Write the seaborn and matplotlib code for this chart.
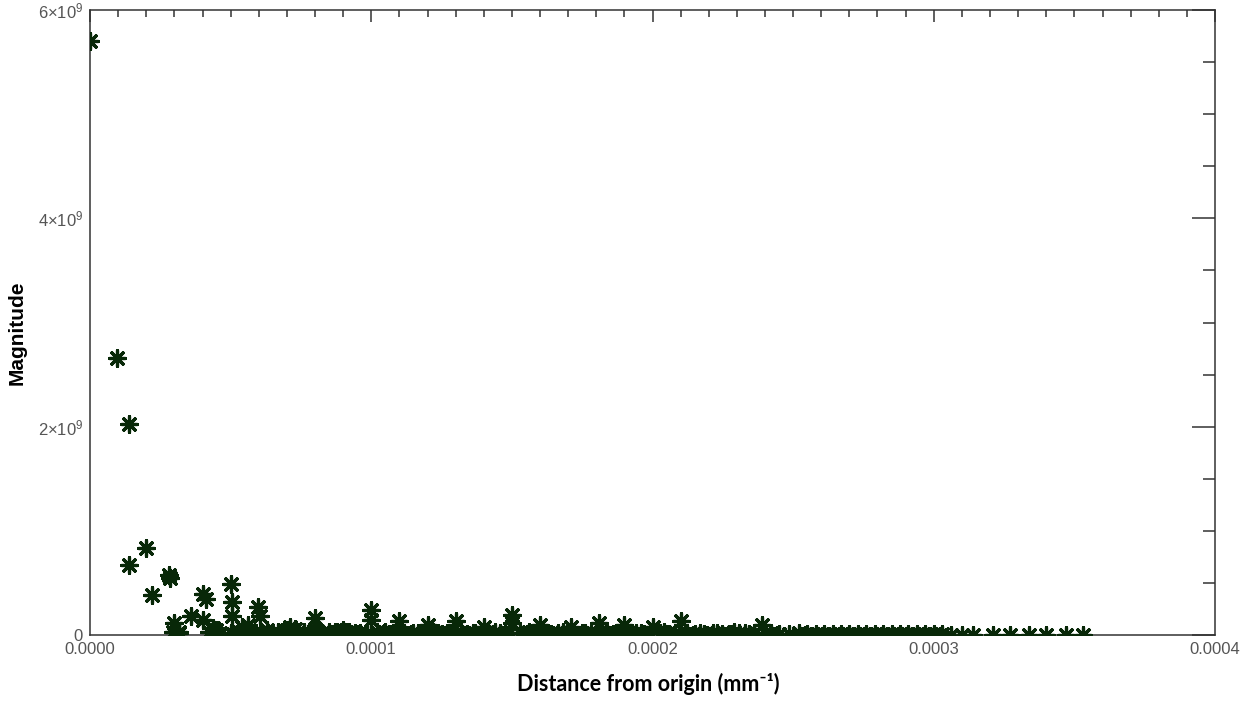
import numpy as np
import pandas as pd
import matplotlib
matplotlib.use("Agg")
import matplotlib.pyplot as plt
from matplotlib.ticker import MultipleLocator, FixedFormatter, FixedLocator
import seaborn as sns

# Radial distance of each frequency sample, in units of 1e-5 mm^-1
distance_e5 = [
    0.0, 0.96, 1.38, 1.38, 1.98, 2.22, 2.80, 2.83,
    3.0, 2.95, 3.16, 3.6, 4.0, 4.12, 4.02, 4.37,
    5.0, 5.04, 5.04, 5.0, 5.39, 5.62, 5.97, 6.04, 6.28,
    7.1, 8.0, 9.0, 10.0, 10.0, 11.0, 12.0, 13.0, 14.0,
    15.0, 15.0, 16.0, 17.1, 18.1, 19.0, 20.0, 21.0, 23.9,
    # low-magnitude floor
    3.16, 4.24, 4.47, 4.47, 5.1, 5.39, 5.66, 5.83, 6.08, 6.32, 6.4, 6.7,
    7.0, 7.07, 7.21, 7.28, 7.6, 7.81, 8.06, 8.25, 8.49, 8.6, 8.94, 9.22,
    9.43, 9.49, 9.85, 10.2, 10.44, 10.63, 10.77, 11.18, 11.4, 11.66, 11.7,
    12.04, 12.37, 12.53, 12.81, 13.04, 13.42, 13.6, 13.89, 14.14, 14.32,
    14.56, 14.76, 15.3, 15.52, 15.81, 16.12, 16.4, 16.64, 16.97, 17.2,
    17.49, 17.8, 18.03, 18.36, 18.6, 18.87, 19.24, 19.42, 19.7, 20.25,
    20.5, 20.8, 21.21, 21.5, 21.84, 22.14, 22.47, 22.8, 22.9, 23.09, 23.43,
    23.6, 24.2, 24.5, 24.84, 25.2, 25.5, 25.8, 26.1, 26.4, 26.7, 27.0,
    27.3, 27.6, 27.9, 28.2, 28.5, 28.8, 29.1, 29.4, 29.7, 30.0, 30.3,
    30.6, 31.0,
    # second layer of the floor
    6.9, 7.4, 7.95, 8.7, 9.1, 9.6, 10.5, 10.9, 11.5, 11.9, 12.2, 12.7,
    13.2, 13.7, 14.4, 14.9, 15.6, 16.3, 16.8, 17.6, 18.2, 18.7, 19.1,
    19.6, 20.4, 20.95, 21.7, 22.3, 23.3, 24.0,
    # sparse outer ring
    31.4, 32.1, 32.7, 33.4, 34.0, 34.7, 35.3,
]

# Magnitude of each sample, in units of 1e9
magnitude_e9 = [
    5.70, 2.66, 2.03, 0.67, 0.84, 0.38, 0.58, 0.55,
    0.12, 0.03, 0.03, 0.18, 0.39, 0.35, 0.14, 0.07,
    0.49, 0.32, 0.18, 0.02, 0.08, 0.10, 0.27, 0.18, 0.05,
    0.08, 0.16, 0.05, 0.24, 0.14, 0.13, 0.10, 0.13, 0.08,
    0.19, 0.12, 0.10, 0.08, 0.12, 0.10, 0.08, 0.13, 0.10,
    # low-magnitude floor
    0.02, 0.03, 0.05, 0.02, 0.01, 0.03, 0.04, 0.02, 0.03, 0.02, 0.01, 0.03,
    0.05, 0.04, 0.02, 0.06, 0.03, 0.02, 0.04, 0.02, 0.03, 0.01, 0.03, 0.03,
    0.02, 0.01, 0.02, 0.03, 0.02, 0.01, 0.02, 0.02, 0.01, 0.02, 0.01,
    0.03, 0.02, 0.01, 0.02, 0.03, 0.01, 0.02, 0.02, 0.03, 0.01,
    0.02, 0.01, 0.02, 0.01, 0.02, 0.03, 0.01, 0.02, 0.02, 0.01,
    0.02, 0.01, 0.02, 0.02, 0.01, 0.02, 0.01, 0.02, 0.01, 0.02,
    0.01, 0.02, 0.02, 0.01, 0.01, 0.02, 0.01, 0.01, 0.03, 0.02, 0.01,
    0.01, 0.02, 0.01, 0.01, 0.02, 0.01, 0.01, 0.01, 0.005, 0.01, 0.005,
    0.01, 0.005, 0.005, 0.01, 0.005, 0.005, 0.01, 0.005, 0.005, 0.005, 0.005,
    0.0, 0.0,
    # second layer of the floor
    0.04, 0.03, 0.04, 0.03, 0.03, 0.02, 0.03, 0.03, 0.02, 0.04, 0.03, 0.02,
    0.03, 0.02, 0.03, 0.02, 0.03, 0.02, 0.03, 0.02, 0.03, 0.02, 0.03,
    0.02, 0.03, 0.02, 0.02, 0.02, 0.02, 0.02,
    # sparse outer ring
    0.0, 0.0, 0.0, 0.0, 0.0, 0.0, 0.0,
]

x_tick_labels = ["0.0000", "0.0001", "0.0002", "0.0003", "0.0004"]
y_tick_labels = ["0", r"$2{\times}10^{9}$", r"$4{\times}10^{9}$", r"$6{\times}10^{9}$"]

df = pd.DataFrame({
    "distance": np.array(distance_e5) * 1e-5,
    "magnitude": np.array(magnitude_e9) * 1e9,
})

sns.set_theme(style="white")
plt.rcParams["font.family"] = ["Liberation Sans", "DejaVu Sans"]
plt.rcParams["mathtext.fontset"] = "custom"
plt.rcParams["mathtext.rm"] = "Liberation Sans"
plt.rcParams["mathtext.it"] = "Liberation Sans"
plt.rcParams["mathtext.default"] = "rm"

fig = plt.figure(figsize=(12.6, 7.02), dpi=100)
ax = fig.add_axes([90 / 1260, 1 - 635 / 702, 1125 / 1260, 625 / 702])

sns.scatterplot(
    data=df, x="distance", y="magnitude", ax=ax,
    marker=(8, 2, 0), s=130, color="#082808", edgecolor="#082808",
    linewidth=2.3, legend=False, clip_on=True, zorder=3,
)

ax.set_xlim(0, 4e-4)
ax.set_ylim(0, 6e9)

ax.xaxis.set_major_locator(FixedLocator([0, 1e-4, 2e-4, 3e-4, 4e-4]))
ax.xaxis.set_major_formatter(FixedFormatter(x_tick_labels))
ax.xaxis.set_minor_locator(MultipleLocator(1e-5))
ax.yaxis.set_major_locator(FixedLocator([0, 2e9, 4e9, 6e9]))
ax.yaxis.set_major_formatter(FixedFormatter(y_tick_labels))
ax.yaxis.set_minor_locator(MultipleLocator(0.5e9))

tick_color = "#333333"
ax.tick_params(axis="both", which="both", direction="in", top=True, right=True,
               color=tick_color, width=1.1, labelcolor="#555555", labelsize=12)
ax.tick_params(axis="x", which="major", length=8.6, pad=5)
ax.tick_params(axis="x", which="minor", length=5)
ax.tick_params(axis="y", which="major", length=16.5, pad=5)
ax.tick_params(axis="y", which="minor", length=9)

for spine in ax.spines.values():
    spine.set_visible(True)
    spine.set_color(tick_color)
    spine.set_linewidth(1.1)

ax.set_xlabel("Distance from origin (mm⁻¹)", fontsize=15.5, fontweight="bold",
              family=["Lato", "DejaVu Sans"], color="black")
ax.xaxis.set_label_coords(0.496, -0.06)
ax.set_ylabel("Magnitude", fontsize=15, fontweight="bold", color="black")
ax.yaxis.set_label_coords(-0.056, 0.483)

fig.savefig("out.png", dpi=100, facecolor="white")
